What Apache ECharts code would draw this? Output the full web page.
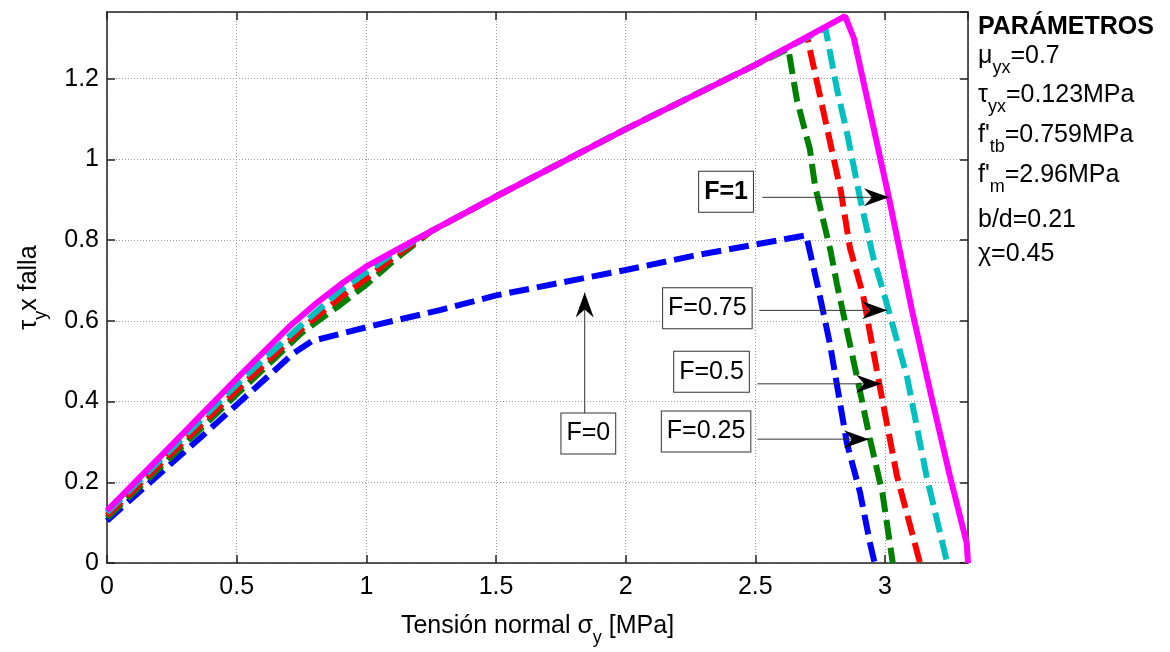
<!DOCTYPE html>
<html>
<head>
<meta charset="utf-8">
<script src="https://cdn.jsdelivr.net/npm/echarts@6/dist/echarts.min.js"></script>
<style>
html, body { margin: 0; background: #fff; }
#main { width: 1170px; height: 652px; }
</style>
</head>
<body>
<div id="main"></div>
<script>
// failure envelopes, one per F value (x = normal stress, y = shear stress)
var xF0   = [0, 0.35, 0.72, 0.79, 1.03, 1.28, 1.5, 2.0, 2.26, 2.696, 2.742, 2.788, 2.827, 2.853, 2.904, 2.942, 2.96];
var yF0   = [0.105, 0.305, 0.52, 0.55, 0.589, 0.626, 0.663, 0.726, 0.761, 0.812, 0.682, 0.542, 0.395, 0.297, 0.174, 0.05, 0];
var xF025 = [0, 0.52, 0.75, 0.9, 1.0, 1.12, 1.25, 1.5, 2.0, 2.5, 2.627, 2.66, 2.71, 2.73, 2.79, 2.815, 2.892, 2.942, 2.99, 3.03];
var yF025 = [0.112, 0.43, 0.57, 0.64, 0.69, 0.757, 0.822, 0.908, 1.075, 1.234, 1.274, 1.148, 1.026, 0.935, 0.773, 0.69, 0.461, 0.307, 0.174, 0];
var xF05  = [0, 0.52, 0.75, 0.9, 1.0, 1.1, 1.25, 1.5, 2.0, 2.5, 2.7, 2.78, 2.83, 2.865, 2.915, 2.98, 3.046, 3.135];
var yF05  = [0.118, 0.44, 0.58, 0.658, 0.705, 0.755, 0.822, 0.908, 1.075, 1.234, 1.302, 1.067, 0.92, 0.78, 0.665, 0.437, 0.216, 0];
var xF075 = [0, 0.52, 0.75, 0.9, 1.0, 1.1, 1.25, 1.5, 2.0, 2.5, 2.77, 2.815, 2.853, 2.904, 2.955, 3.0, 3.085, 3.16, 3.24];
var yF075 = [0.125, 0.455, 0.59, 0.675, 0.72, 0.765, 0.822, 0.908, 1.075, 1.234, 1.326, 1.173, 1.067, 0.903, 0.756, 0.658, 0.461, 0.216, 0];
var xF1   = [0, 0.25, 0.52, 0.71, 0.8, 0.9, 1.0, 1.1, 1.25, 1.5, 2.0, 2.5, 2.846, 2.88, 3.015, 3.104, 3.185, 3.25, 3.315, 3.32];
var yF1   = [0.13, 0.293, 0.47, 0.59, 0.64, 0.69, 0.735, 0.77, 0.822, 0.908, 1.075, 1.234, 1.355, 1.3, 0.905, 0.626, 0.395, 0.216, 0.05, 0];

var seriesNames  = ['F=0', 'F=0.25', 'F=0.5', 'F=0.75', 'F=1'];
var seriesX      = [xF0, xF025, xF05, xF075, xF1];
var seriesY      = [yF0, yF025, yF05, yF075, yF1];
var seriesColors = ['#0000ff', '#008000', '#ff0000', '#00bfbf', '#ff00ff'];

// annotations (data coordinates)
var noteText  = ['F=1', 'F=0.75', 'F=0.5', 'F=0.25', 'F=0'];
var noteBox   = [[2.387, 0.92], [2.315, 0.631], [2.331, 0.474], [2.31, 0.326], [1.856, 0.321]];
var arrowFrom = [[2.527, 0.906], [2.515, 0.626], [2.508, 0.444], [2.508, 0.307], [1.842, 0.371]];
var arrowTo   = [[3.015, 0.906], [3.008, 0.626], [2.985, 0.444], [2.938, 0.307], [1.842, 0.67]];

var paramLines = [
  '{b|PARÁMETROS}',
  '{t|μ}{s|yx}{t|=0.7}',
  '{t|τ}{s|yx}{t|=0.123MPa}',
  "{t|f'}{s|tb}{t|=0.759MPa}",
  "{t|f'}{s|m}{t|=2.96MPa}",
  '{t|b/d=0.21}',
  '{t|χ=0.45}'
];
var paramY = [27, 56, 95, 135, 175, 220, 254];

var FONT = 'Liberation Sans, Arial, Helvetica, sans-serif';
var richText = {
  b: { fontSize: 25, fontWeight: 'bold', fontFamily: FONT, color: '#000', lineHeight: 28 },
  t: { fontSize: 25, fontFamily: FONT, color: '#000', lineHeight: 28 },
  s: { fontSize: 18, fontFamily: FONT, color: '#000', lineHeight: 20, padding: [24, 0, 0, 0] }
};

var chart = echarts.init(document.getElementById('main'));

function pairs(xs, ys) {
  return xs.map(function (x, i) { return [x, ys[i]]; });
}

var series = seriesNames.map(function (name, i) {
  return {
    name: name,
    type: 'line',
    xAxisIndex: 0,
    yAxisIndex: 0,
    data: pairs(seriesX[i], seriesY[i]),
    showSymbol: false,
    symbol: 'none',
    lineStyle: {
      color: seriesColors[i],
      width: 6,
      type: name === 'F=1' ? 'solid' : [20, 8]
    }
  };
});

var axisLineStyle = { color: '#222', width: 1.5 };
var gridLineStyle = { color: '#999', width: 1, type: [1, 2] };

function xAxisDef(pos, main) {
  return {
    type: 'value', position: pos, min: 0, max: 3.32, interval: 0.5,
    axisLine: { show: true, onZero: false, lineStyle: axisLineStyle },
    axisTick: { show: true, inside: true, length: 8, lineStyle: axisLineStyle },
    axisLabel: { show: main, fontSize: 25, fontFamily: FONT, color: '#000', margin: 12, showMaxLabel: false },
    splitLine: { show: main, lineStyle: gridLineStyle },
    name: main ? '{t|Tensión normal σ}{s|y}{t| [MPa]}' : '',
    nameLocation: 'middle',
    nameGap: 29,
    nameTextStyle: { rich: richText }
  };
}
function yAxisDef(pos, main) {
  return {
    type: 'value', position: pos, min: 0, max: 1.365, interval: 0.2,
    axisLine: { show: true, onZero: false, lineStyle: axisLineStyle },
    axisTick: { show: true, inside: true, length: 8, lineStyle: axisLineStyle },
    axisLabel: { show: main, fontSize: 25, fontFamily: FONT, color: '#000', margin: 8, showMaxLabel: false },
    splitLine: { show: main, lineStyle: gridLineStyle },
    name: main ? '{t|τ}{s|y}{t|x falla}' : '',
    nameLocation: 'middle',
    nameGap: 64,
    nameTextStyle: { rich: richText }
  };
}

chart.setOption({
  animation: false,
  backgroundColor: '#fff',
  grid: { left: 105, right: 202, top: 12, bottom: 84, containLabel: false },
  xAxis: [xAxisDef('bottom', true), xAxisDef('top', false)],
  yAxis: [yAxisDef('left', true), yAxisDef('right', false)],
  series: series
});

// annotation boxes, arrows and the parameter list
function px(pt) {
  return chart.convertToPixel({ xAxisIndex: 0, yAxisIndex: 0 }, pt);
}
function arrowHead(tip, from) {
  var dx = tip[0] - from[0], dy = tip[1] - from[1];
  var len = Math.sqrt(dx * dx + dy * dy);
  var ux = dx / len, uy = dy / len, nx = -uy, ny = ux;
  var L = 25, W = 9, notch = 17;
  return [
    [tip[0], tip[1]],
    [tip[0] - L * ux + W * nx, tip[1] - L * uy + W * ny],
    [tip[0] - notch * ux, tip[1] - notch * uy],
    [tip[0] - L * ux - W * nx, tip[1] - L * uy - W * ny]
  ];
}

var graphics = [];
noteText.forEach(function (txt, i) {
  var a = px(arrowFrom[i]), b = px(arrowTo[i]), c = px(noteBox[i]);
  graphics.push({
    type: 'line', z: 50,
    shape: { x1: a[0], y1: a[1], x2: b[0], y2: b[1] },
    style: { stroke: '#333', lineWidth: 1 }
  });
  graphics.push({
    type: 'polygon', z: 51,
    shape: { points: arrowHead(b, a) },
    style: { fill: '#000' }
  });
  graphics.push({
    type: 'text', z: 52,
    style: {
      x: c[0], y: c[1], text: txt,
      font: (i === 0 ? 'bold ' : '') + '25px ' + FONT,
      fill: '#000', align: 'center', verticalAlign: 'middle',
      backgroundColor: '#fff', borderColor: '#333', borderWidth: 1,
      padding: [6, 5, 6, 5], lineHeight: 28
    }
  });
});
paramLines.forEach(function (line, i) {
  graphics.push({
    type: 'text', z: 52,
    style: {
      x: 978, y: paramY[i], text: line, rich: richText,
      align: 'left', verticalAlign: 'middle'
    }
  });
});
chart.setOption({ graphic: graphics });
</script>
</body>
</html>
